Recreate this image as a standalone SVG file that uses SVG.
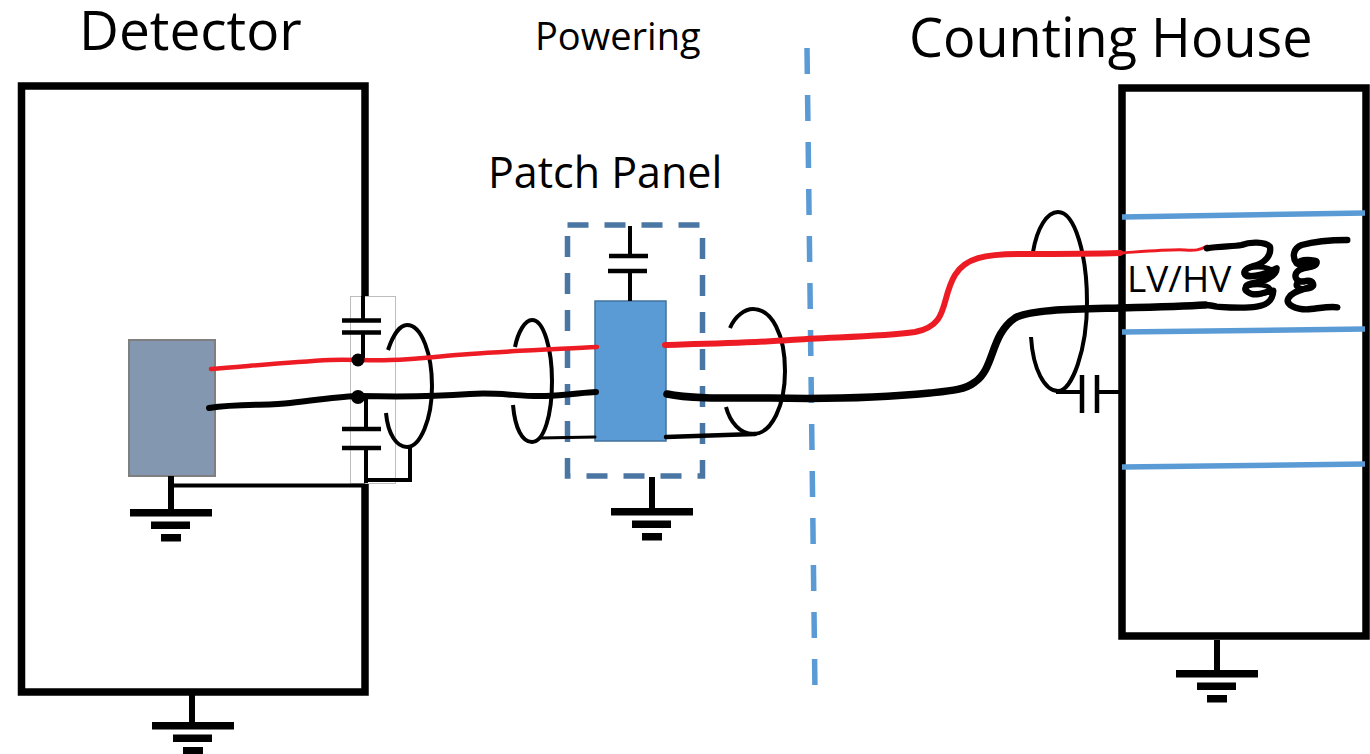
<svg xmlns="http://www.w3.org/2000/svg" width="1370" height="754" viewBox="0 0 1370 754">
<style>
text{font-family:"Open Sans","Noto Sans","Liberation Sans",sans-serif;fill:#000}
.box{fill:none;stroke:#000;stroke-width:7.500}
.w{fill:none;stroke:#000;stroke-linecap:round;stroke-linejoin:round}
.s{fill:none;stroke:#000;stroke-width:4}
.e{fill:none;stroke:#000;stroke-width:4;stroke-linecap:butt}
.r{fill:none;stroke:#ed1c24;stroke-linecap:round;stroke-linejoin:round}
.b{fill:none;stroke:#5b9bd5;stroke-width:5.500}
.p{stroke:#000;stroke-width:4.500}
</style>
<defs>
<g id="gnd"><rect x="-41" y="0" width="82" height="7.500"/><rect x="-20" y="12.500" width="39" height="7.500"/><rect x="-10" y="25" width="20" height="7.500"/></g>
</defs>
<g id="detector">
<path class="box" d="M365 296V86H21.500V692H365V483"/>
<rect x="350.500" y="296.500" width="45" height="187" fill="none" stroke="#bdbdbd" stroke-width="1"/>
<rect x="129" y="340" width="86" height="136" fill="#8497b0" stroke="#7f7f7f" stroke-width="2"/>
<path class="s" d="M363 296V320M363 332V358M366 398V429M366 448V483M171 485.500H365M366 480H410V447"/>
<path class="p" d="M342 320.500H381M342 332.500H381M342 429H381M342 448H381"/>
<path d="M171 476V512" stroke="#000" stroke-width="6"/>
<use href="#gnd" x="171" y="509"/>
<path d="M192 695V725" stroke="#000" stroke-width="6"/>
<use href="#gnd" x="193" y="722"/>
<text x="79" y="50" font-size="55">Detector</text>
</g>
<g id="patch-panel">
<rect x="567.500" y="225" width="135" height="251" fill="none" stroke="#4a76a3" stroke-width="5.500" stroke-dasharray="21 16"/>
<rect x="595" y="301" width="71" height="140" fill="#5b9bd5" stroke="#41719c" stroke-width="1.500"/>
<path class="s" d="M630 226V256M630 271V301"/>
<path class="p" d="M609 256H648M608 271H647"/>
<path d="M652 477V511" stroke="#000" stroke-width="6"/>
<use href="#gnd" x="652" y="508"/>
<text x="488" y="188" font-size="43">Patch Panel</text>
</g>
<g id="counting-house">
<rect class="box" x="1122" y="88" width="244" height="548"/>
<path class="b" d="M1122 217L1365 213M1122 332L1365 329M1122 467L1365 464"/>
<path d="M1217 640V673" stroke="#000" stroke-width="6"/>
<use href="#gnd" x="1217" y="670"/>
<path class="s" d="M1056 392H1082M1097 392H1120"/>
<path class="p" d="M1082 375V413M1097 375V413"/>
<text x="1127" y="292" font-size="37">LV/HV</text>
<text x="909" y="57" font-size="54">Counting House</text>
</g>
<g id="powering"><text x="535" y="50" font-size="38">Powering</text></g>
<g id="divider"><path d="M807 48L815 692" fill="none" stroke="#5b9bd5" stroke-width="5.500" stroke-dasharray="26 21"/></g>
<g id="connectors">
<path class="e" d="M388 350C393 335 400 325 407 325C422 325 432 355 432 386C432 420 420 447 407 447C397 447 388 435 386 413"/>
<path class="e" d="M515 347C518 332 525 320 532 320C544 320 552 350 552 381C552 415 544 442 532 442C522 442 515 428 513 405"/>
<path class="e" d="M730 328C735 316 745 309 753 309C772 309 785 335 785 371C785 405 772 434 753 434C740 434 730 422 726 407"/>
<path class="e" d="M1033 252C1037 228 1047 212 1058 212C1075 212 1087 255 1087 302C1087 350 1072 391 1058 391C1045 391 1033 370 1031 337"/>
<path class="w" stroke-width="3" d="M540 438L595 437"/>
<path class="w" stroke-width="4.500" d="M666 437L755 434"/>
<path class="w" stroke-width="6" d="M209 408C240 403 270 406 290 403C320 400 340 396 360 396C400 397 430 397 470 394C500 392 520 397 545 396C565 396 585 392 596 392"/>
<path class="w" stroke-width="7.500" d="M667 394C690 399 730 398 770 398C820 399 880 398 930 393C950 391 965 390 975 382C995 368 990 335 1015 318C1030 309 1080 309 1120 308C1160 307 1190 306 1205 305"/>
<path class="r" stroke-width="4.500" d="M211 369C250 366 290 362 330 360C350 359 370 361 390 360C420 359 440 356 470 354C510 351 560 349 597 347"/>
<path class="r" stroke-width="6" d="M665 345C700 344 750 343 790 340C830 337 880 337 915 332C950 325 940 300 955 275C965 258 985 254 1020 254C1060 254 1090 254 1120 253"/>
<path class="r" stroke-width="3" d="M1120 253C1150 251 1175 249 1185 250C1195 251 1200 250 1207 246"/>
<circle cx="358" cy="360" r="6.500"/>
<circle cx="358" cy="397" r="7"/>
<g transform="translate(1020 200) scale(.3333)">
<path class="w" stroke-width="19" d="M560 145C600 138 640 140 665 135C690 125 735 125 750 140C755 165 735 190 700 198C675 205 665 220 680 228C710 232 745 218 770 205C770 230 730 245 695 250C670 255 670 275 700 283C725 285 750 270 760 272C758 300 745 315 710 320C670 326 620 322 590 320C580 318 570 316 560 315"/>
<path class="w" stroke-width="19" d="M982 120C930 120 880 125 845 135C820 145 815 170 830 190C850 195 885 175 890 185C890 205 850 200 835 212C820 225 825 245 850 245C870 238 885 245 875 258C855 270 820 270 805 295C795 315 830 328 860 328C890 326 930 318 952 322"/>
<ellipse class="w" stroke-width="15" cx="715" cy="215" rx="42" ry="14"/>
<ellipse class="w" stroke-width="15" cx="712" cy="268" rx="38" ry="14"/>
<ellipse class="w" stroke-width="17" cx="862" cy="190" rx="28" ry="11"/>
<ellipse class="w" stroke-width="17" cx="855" cy="255" rx="26" ry="12"/>
</g>
</g>
</svg>
